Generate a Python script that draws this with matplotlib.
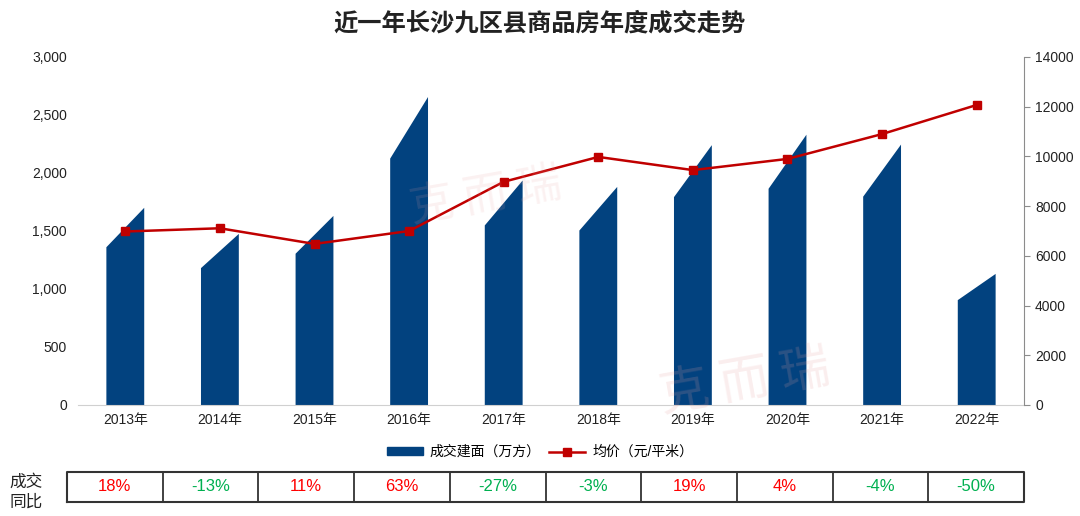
import matplotlib
matplotlib.use('Agg')
import matplotlib.pyplot as plt
from matplotlib.patches import Patch
from matplotlib.lines import Line2D
from matplotlib.ticker import FuncFormatter

plt.rcParams['font.family'] = ['Liberation Sans', 'Noto Sans CJK SC', 'DejaVu Sans']

# 数据
years = ['2013年', '2014年', '2015年', '2016年', '2017年', '2018年', '2019年', '2020年', '2021年', '2022年']
area = [1700, 1475, 1630, 2655, 1935, 1880, 2240, 2330, 2245, 1130]   # 成交建面（万方）
price = [6980, 7110, 6480, 7000, 8980, 9980, 9450, 9900, 10900, 12070]  # 均价（元/平米）
yoy = ['18%', '-13%', '11%', '63%', '-27%', '-3%', '19%', '4%', '-4%', '-50%']

navy = '#02427F'
red = '#C00000'

fig = plt.figure(figsize=(10.8, 5.16), dpi=100)
ax = fig.add_axes([78/1080, 111/516, 946/1080, 348/516])
ax2 = ax.twinx()

# 斜顶柱子
w = 0.2
for i, v in enumerate(area):
    ax.fill([i - w, i - w, i + w, i + w], [0, v * 0.8, v, 0], color=navy, lw=0, zorder=2)

ax.set_xlim(-0.5, len(years) - 0.5)
ax.set_ylim(0, 3000)
ax.set_yticks(range(0, 3001, 500))
ax.yaxis.set_major_formatter(FuncFormatter(lambda x, p: f'{int(x):,}'))
ax.set_xticks(range(len(years)))
ax.set_xticklabels(years)
ax.tick_params(axis='both', length=0, labelsize=10, colors='#222222', pad=8)
ax.tick_params(axis='x', pad=6)
for s in ['top', 'left', 'right']:
    ax.spines[s].set_visible(False)
ax.spines['bottom'].set_color('#D0D0D0')

ax2.plot(range(len(years)), price, color=red, lw=1.8, marker='s', ms=6, zorder=3)
ax2.set_ylim(0, 14000)
ax2.set_yticks(range(0, 14001, 2000))
ax2.tick_params(axis='y', length=4, labelsize=10, colors='#222222', pad=4)
for s in ['top', 'left', 'bottom']:
    ax2.spines[s].set_visible(False)
ax2.spines['right'].set_color('#8C8C8C')
ax2.tick_params(axis='y', color='#8C8C8C')

# 水印
fig.text(0.69, 0.26, '克 而 瑞', fontsize=36, color='#E8A0A0', alpha=0.18, rotation=10,
         ha='center', va='center', family=['Noto Sans CJK SC'])
fig.text(0.45, 0.62, '克 而 瑞', fontsize=32, color='#E8A0A0', alpha=0.14, rotation=10,
         ha='center', va='center', family=['Noto Sans CJK SC'])

fig.text(0.5, 0.955, '近一年长沙九区县商品房年度成交走势', ha='center', va='center',
         fontsize=17.5, fontweight='bold', color='#222222')

handles = [Patch(color=navy, label='成交建面（万方）'),
           Line2D([], [], color=red, lw=1.8, marker='s', ms=6, label='均价（元/平米）')]
fig.legend(handles=handles, loc='center', bbox_to_anchor=(0.5, 64/516), ncol=2, frameon=False,
           fontsize=10, handlelength=2.6, handleheight=0.45, columnspacing=0.6, handletextpad=0.5)

# 同比表格
tx = fig.add_axes([67/1080, 14.5/516, 957/1080, 30/516])
tx.set_xlim(0, len(yoy))
tx.set_ylim(0, 1)
tx.axis('off')
tx.plot([0, len(yoy), len(yoy), 0, 0], [0, 0, 1, 1, 0], color='#333333', lw=1.5, clip_on=False)
for i in range(1, len(yoy)):
    tx.plot([i, i], [0, 1], color='#333333', lw=1.3)
for i, t in enumerate(yoy):
    c = '#00B050' if t.startswith('-') else '#FF0000'
    tx.text(i + 0.5, 0.5, t, ha='center', va='center', fontsize=12, color=c)

fig.text(26/1080, 1 - 482/516, '成交', ha='center', va='center', fontsize=12, color='#222222')
fig.text(26/1080, 1 - 502/516, '同比', ha='center', va='center', fontsize=12, color='#222222')

fig.savefig('out.png', dpi=100, facecolor='white')
